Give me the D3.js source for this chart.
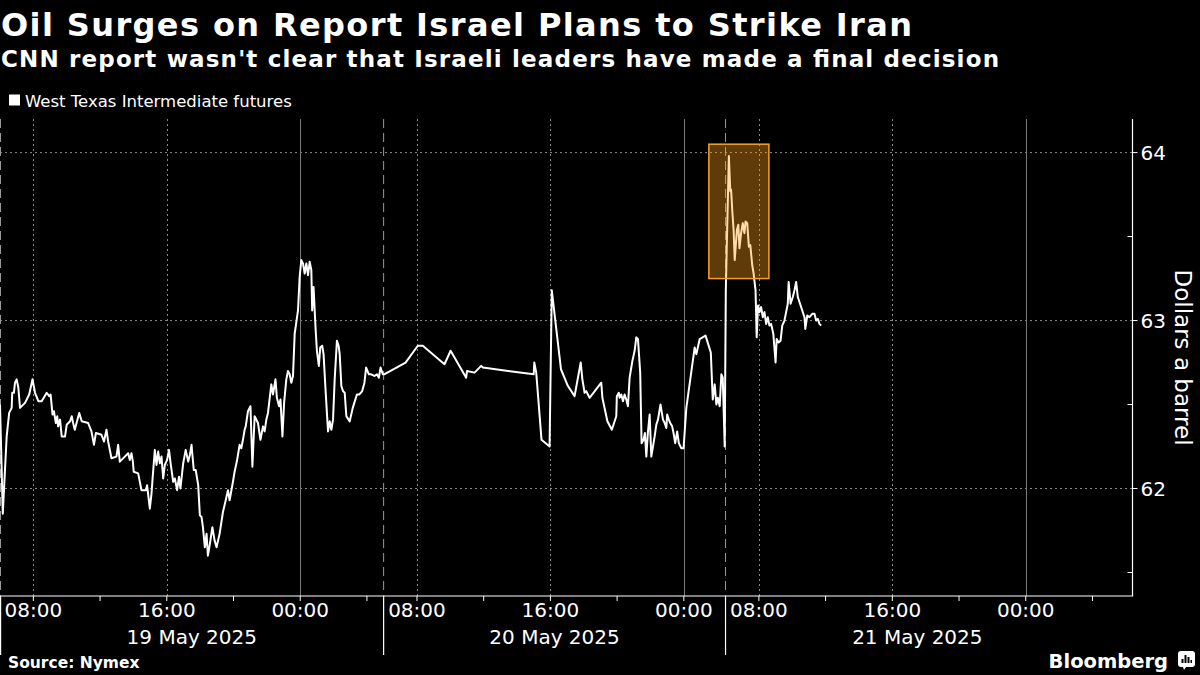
<!DOCTYPE html>
<html>
<head>
<meta charset="utf-8">
<script src="https://cdn.jsdelivr.net/npm/d3@7"></script>
<style>
  html, body { margin: 0; padding: 0; background: #000; }
  svg { display: block; }
  text { font-family: "DejaVu Sans", sans-serif; fill: #fff; }
</style>
</head>
<body>
<svg id="chart" width="1200" height="675"></svg>
<script>
// ---------------- DATA ----------------
const titleText = "Oil Surges on Report Israel Plans to Strike Iran";
const subtitleText = "CNN report wasn't clear that Israeli leaders have made a final decision";
const seriesName = "West Texas Intermediate futures";
const sourceText = "Source: Nymex";
const yAxisTitle = "Dollars a barrel";

// trading sessions (times shown on the chart's clock)
const sessionStarts = ["05-19 06:00", "05-20 06:00", "05-21 06:00"];
const sessionEnds   = ["05-20 05:00", "05-21 02:30", "05-22 05:00"];
const sessionLabels = ["19 May 2025", "20 May 2025", "21 May 2025"];
const axisEnd = "05-22 06:24";

const yDomain = [61.36, 64.2];
const yMajorTicks = [62, 63, 64];
const yMinorTicks = [61.5, 62.5, 63.5];

const highlightTimes = ["05-21 01:30", "05-21 08:36"];
const highlightRange = [63.25, 64.05];

// WTI futures, session of 19 May
const s1Times = ["05-19 06:00","05-19 06:10","05-19 06:24","05-19 06:33","05-19 06:42","05-19 06:44","05-19 06:50","05-19 06:54","05-19 07:00","05-19 07:06","05-19 07:12","05-19 07:30","05-19 07:45","05-19 07:57","05-19 08:06","05-19 08:18","05-19 08:30","05-19 08:48","05-19 08:57","05-19 09:02","05-19 09:09","05-19 09:14","05-19 09:21","05-19 09:26","05-19 09:29","05-19 09:36","05-19 09:42","05-19 09:54","05-19 10:00","05-19 10:12","05-19 10:18","05-19 10:23","05-19 10:29","05-19 10:45","05-19 10:54","05-19 11:17","05-19 11:29","05-19 11:38","05-19 11:45","05-19 12:05","05-19 12:14","05-19 12:23","05-19 12:29","05-19 12:41","05-19 12:59","05-19 13:05","05-19 13:11","05-19 13:29","05-19 13:41","05-19 13:47","05-19 13:53","05-19 13:58","05-19 14:01","05-19 14:17","05-19 14:29","05-19 14:45","05-19 14:49","05-19 14:59","05-19 15:05","05-19 15:09","05-19 15:17","05-19 15:23","05-19 15:29","05-19 15:35","05-19 15:41","05-19 15:47","05-19 15:53","05-19 16:01","05-19 16:08","05-19 16:13","05-19 16:23","05-19 16:29","05-19 16:37","05-19 16:44","05-19 16:49","05-19 16:59","05-19 17:08","05-19 17:17","05-19 17:23","05-19 17:29","05-19 17:37","05-19 17:44","05-19 17:53","05-19 17:59","05-19 18:05","05-19 18:10","05-19 18:17","05-19 18:23","05-19 18:28","05-19 18:35","05-19 18:44","05-19 18:52","05-19 18:59","05-19 19:10","05-19 19:22","05-19 19:32","05-19 19:40","05-19 19:46","05-19 19:58","05-19 20:04","05-19 20:13","05-19 20:22","05-19 20:28","05-19 20:34","05-19 20:40","05-19 20:44","05-19 20:52","05-19 21:01","05-19 21:08","05-19 21:16","05-19 21:28","05-19 21:37","05-19 21:46","05-19 21:52","05-19 21:58","05-19 22:04","05-19 22:16","05-19 22:22","05-19 22:31","05-19 22:36","05-19 22:44","05-19 22:49","05-19 22:56","05-19 23:02","05-19 23:10","05-19 23:16","05-19 23:22","05-19 23:28","05-19 23:34","05-19 23:40","05-19 23:52","05-19 23:58","05-20 00:04","05-20 00:10","05-20 00:16","05-20 00:22","05-20 00:28","05-20 00:34","05-20 00:40","05-20 00:43","05-20 00:48","05-20 00:55","05-20 01:00","05-20 01:07","05-20 01:12","05-20 01:19","05-20 01:24","05-20 01:31","05-20 01:36","05-20 01:40","05-20 01:46","05-20 01:52","05-20 01:58","05-20 02:04","05-20 02:12","05-20 02:18","05-20 02:22","05-20 02:28","05-20 02:34","05-20 02:40","05-20 02:46","05-20 02:58","05-20 03:09","05-20 03:24","05-20 03:33","05-20 03:43","05-20 03:51","05-20 03:57","05-20 04:07","05-20 04:15","05-20 04:27","05-20 04:36","05-20 04:43","05-20 04:49","05-20 04:57"];
const s1Values = [62.50,61.85,62.31,62.45,62.48,62.57,62.57,62.63,62.65,62.60,62.48,62.51,62.56,62.65,62.57,62.52,62.52,62.57,62.55,62.56,62.44,62.46,62.39,62.43,62.37,62.41,62.31,62.31,62.38,62.40,62.43,62.39,62.35,62.45,62.40,62.39,62.34,62.26,62.33,62.32,62.28,62.35,62.28,62.18,62.19,62.26,62.16,62.19,62.21,62.17,62.21,62.16,62.10,62.09,61.99,61.99,62.02,61.88,61.97,62.06,62.23,62.14,62.22,62.15,62.19,62.06,62.14,62.17,62.23,62.16,62.04,62.06,61.99,62.07,62.00,62.15,62.23,62.16,62.20,62.26,62.11,62.11,62.02,61.84,61.83,61.77,61.65,61.73,61.60,61.67,61.77,61.69,61.65,61.73,61.86,61.93,61.99,61.93,62.04,62.10,62.17,62.26,62.24,62.29,62.35,62.37,62.46,62.49,62.13,62.43,62.39,62.29,62.37,62.34,62.41,62.45,62.62,62.56,62.65,62.54,62.49,62.53,62.31,62.51,62.65,62.70,62.68,62.63,62.67,62.92,63.06,63.26,63.36,63.34,63.28,63.34,63.27,63.35,63.30,63.06,63.20,62.96,62.82,62.73,62.84,62.85,62.80,62.59,62.45,62.34,62.40,62.35,62.41,62.65,62.88,62.85,62.80,62.61,62.58,62.57,62.43,62.40,62.48,62.56,62.56,62.58,62.63,62.72,62.68,62.68,62.67,62.68,62.66,62.72,62.68];

// session of 20 May
const s2Times = ["05-20 06:02","05-20 07:19","05-20 08:03","05-20 08:21","05-20 09:39","05-20 10:01","05-20 10:57","05-20 11:00","05-20 11:27","05-20 11:51","05-20 11:57","05-20 15:00","05-20 15:02","05-20 15:09","05-20 15:28","05-20 15:57","05-20 16:05","05-20 16:38","05-20 17:03","05-20 17:27","05-20 17:49","05-20 17:55","05-20 18:03","05-20 18:09","05-20 18:15","05-20 18:21","05-20 19:03","05-20 19:07","05-20 19:25","05-20 19:41","05-20 19:57","05-20 19:59","05-20 20:06","05-20 20:09","05-20 20:15","05-20 20:21","05-20 20:27","05-20 20:33","05-20 20:39","05-20 20:45","05-20 20:55","05-20 21:03","05-20 21:09","05-20 21:15","05-20 21:23","05-20 21:28","05-20 21:35","05-20 21:40","05-20 21:45","05-20 21:51","05-20 21:57","05-20 22:03","05-20 22:15","05-20 22:21","05-20 22:27","05-20 22:36","05-20 22:45","05-20 22:51","05-20 22:57","05-20 23:00","05-20 23:06","05-20 23:11","05-20 23:18","05-20 23:23","05-20 23:29","05-20 23:36","05-20 23:42","05-20 23:51","05-20 23:59","05-21 00:09","05-21 00:39","05-21 00:45","05-21 00:57","05-21 01:18","05-21 01:37","05-21 01:44","05-21 01:51","05-21 01:57","05-21 02:02","05-21 02:09","05-21 02:15","05-21 02:20","05-21 02:27"];
const s2Values = [62.68,62.75,62.85,62.85,62.74,62.82,62.66,62.70,62.69,62.73,62.72,62.68,62.75,62.69,62.29,62.25,63.18,62.71,62.61,62.55,62.75,62.65,62.57,62.58,62.56,62.54,62.63,62.54,62.40,62.35,62.43,62.55,62.57,62.54,62.56,62.52,62.56,62.53,62.49,62.66,62.76,62.82,62.90,62.89,62.69,62.27,62.29,62.33,62.19,62.34,62.44,62.19,62.31,62.38,62.41,62.50,62.41,62.39,62.36,62.44,62.41,62.39,62.37,62.33,62.27,62.34,62.27,62.24,62.24,62.48,62.84,62.80,62.89,62.91,62.81,62.53,62.62,62.50,62.54,62.49,62.68,62.66,62.25];

// session of 21 May
const s3Times = ["05-21 06:01","05-21 06:05","05-21 06:12","05-21 06:17","05-21 06:20","05-21 06:24","05-21 06:29","05-21 06:33","05-21 06:41","05-21 06:46","05-21 06:50","05-21 06:56","05-21 07:02","05-21 07:08","05-21 07:12","05-21 07:18","05-21 07:24","05-21 07:29","05-21 07:32","05-21 07:36","05-21 07:41","05-21 07:48","05-21 07:52","05-21 07:57","05-21 08:02","05-21 08:08","05-21 08:14","05-21 08:20","05-21 08:26","05-21 08:32","05-21 08:38","05-21 08:44","05-21 08:52","05-21 09:00","05-21 09:04","05-21 09:11","05-21 09:18","05-21 09:24","05-21 09:32","05-21 09:38","05-21 09:44","05-21 09:47","05-21 09:54","05-21 10:02","05-21 10:08","05-21 10:14","05-21 10:20","05-21 10:28","05-21 10:36","05-21 10:44","05-21 10:47","05-21 10:54","05-21 11:02","05-21 11:12","05-21 11:20","05-21 11:26","05-21 11:32","05-21 11:38","05-21 11:44"];
const s3Values = [63.18,63.48,63.98,63.77,63.78,63.66,63.54,63.36,63.54,63.57,63.43,63.52,63.58,63.52,63.59,63.58,63.44,63.45,63.40,63.33,63.28,63.18,62.90,63.09,63.05,63.08,63.02,63.05,62.98,63.02,62.97,62.98,62.92,62.75,62.89,62.87,62.88,62.97,63.00,63.05,63.10,63.23,63.10,63.14,63.18,63.23,63.14,63.10,63.06,63.02,62.95,63.03,63.02,63.04,63.04,63.00,63.01,62.98,62.97];

// ---------------- CHART ----------------
const parseT = d3.timeParse("%Y-%m-%d %H:%M");
const P = s => parseT("2025-" + s);

const svg = d3.select("#chart");
const plot = { left: 0, right: 1132.5, top: 119, bottom: 596 };

// polylinear time scale that skips the non-trading gaps
const segStart = sessionStarts.map(P);
const segEnd = sessionEnds.map(P);
segEnd[segEnd.length - 1] = P(axisEnd);
const hours = segStart.map((s, i) => (segEnd[i] - s) / 3.6e6);
const totalH = d3.sum(hours);
const pxPerH = (plot.right - plot.left) / totalH;
const xDomain = [], xRange = [];
let acc = plot.left;
segStart.forEach((s, i) => {
  xDomain.push(s, segEnd[i]);
  xRange.push(acc, acc + hours[i] * pxPerH);
  acc += hours[i] * pxPerH;
});
const x = d3.scaleTime().domain(xDomain).range(xRange);
const y = d3.scaleLinear().domain(yDomain).range([plot.bottom, plot.top]);

// ticks every 4 hours within sessions
const ticks = [];
segStart.forEach((s, i) => {
  d3.timeHour.every(4).range(s, segEnd[i]).forEach(t => ticks.push(t));
});
const majorTicks = ticks.filter(t => t.getHours() % 8 === 0);

const grid = svg.append("g");
// horizontal gridlines
grid.selectAll("line.h").data(yMajorTicks).join("line")
  .attr("x1", plot.left).attr("x2", plot.right)
  .attr("y1", d => y(d)).attr("y2", d => y(d))
  .attr("stroke", "#8a8a8a").attr("stroke-width", 1).attr("stroke-dasharray", "2,3");
// vertical gridlines
grid.selectAll("line.v").data(majorTicks).join("line")
  .attr("x1", d => Math.round(x(d)) + 0.5).attr("x2", d => Math.round(x(d)) + 0.5)
  .attr("y1", plot.top).attr("y2", plot.bottom)
  .attr("stroke", d => d.getHours() === 0 ? "#7a7a7a" : "#8a8a8a")
  .attr("stroke-width", 1)
  .attr("stroke-dasharray", d => d.getHours() === 0 ? null : "2,3");
// session separators
grid.selectAll("line.s").data(segStart).join("line")
  .attr("x1", d => Math.max(0.5, x(d))).attr("x2", d => Math.max(0.5, x(d)))
  .attr("y1", plot.top).attr("y2", plot.bottom)
  .attr("stroke", "#9a9a9a").attr("stroke-width", 1).attr("stroke-dasharray", "9,5");

// price line
const pts = [];
[[s1Times, s1Values], [s2Times, s2Values], [s3Times, s3Values]].forEach(([ts, vs]) => {
  ts.forEach((t, i) => pts.push({ t: P(t), v: vs[i] }));
});
svg.append("path").datum(pts)
  .attr("fill", "none").attr("stroke", "#fff").attr("stroke-width", 2)
  .attr("stroke-linejoin", "round")
  .attr("d", d3.line().x(d => x(d.t)).y(d => y(d.v)));

// highlight box
const hx0 = x(P(highlightTimes[0])), hx1 = x(P(highlightTimes[1]));
svg.append("rect")
  .attr("x", hx0).attr("y", y(highlightRange[1]))
  .attr("width", hx1 - hx0).attr("height", y(highlightRange[0]) - y(highlightRange[1]))
  .attr("fill", "rgb(255,160,25)").attr("fill-opacity", 0.37)
  .attr("stroke", "#f4a326").attr("stroke-width", 1.5);

// right y axis
const ax = svg.append("g");
ax.append("line").attr("x1", plot.right).attr("x2", plot.right)
  .attr("y1", plot.top).attr("y2", plot.bottom).attr("stroke", "#fff").attr("stroke-width", 1.2);
ax.selectAll("line.mj").data(yMajorTicks).join("line")
  .attr("x1", plot.right).attr("x2", plot.right + 5)
  .attr("y1", d => y(d)).attr("y2", d => y(d)).attr("stroke", "#fff");
ax.selectAll("line.mn").data(yMinorTicks).join("line")
  .attr("x1", plot.right - 5).attr("x2", plot.right)
  .attr("y1", d => y(d)).attr("y2", d => y(d)).attr("stroke", "#fff");
ax.selectAll("text.yl").data(yMajorTicks).join("text")
  .attr("x", plot.right + 8).attr("y", d => y(d)).attr("dy", "0.36em")
  .attr("font-size", 20).text(d => d3.format("d")(d));
svg.append("text")
  .attr("transform", `translate(1175,${(plot.top + plot.bottom) / 2}) rotate(90)`)
  .attr("text-anchor", "middle").attr("font-size", 23).text(yAxisTitle);

// bottom x axis
ax.append("line").attr("x1", plot.left).attr("x2", plot.right + 0.6)
  .attr("y1", plot.bottom).attr("y2", plot.bottom).attr("stroke", "#fff").attr("stroke-width", 1.2);
ax.selectAll("line.xt").data(ticks).join("line")
  .attr("x1", d => x(d)).attr("x2", d => x(d))
  .attr("y1", plot.bottom).attr("y2", plot.bottom + 5).attr("stroke", "#fff");
ax.selectAll("text.xl").data(majorTicks).join("text")
  .attr("x", d => x(d)).attr("y", 617).attr("text-anchor", "middle")
  .attr("font-size", 20).text(d => d3.timeFormat("%H:%M")(d));
ax.selectAll("line.sep").data(segStart).join("line")
  .attr("x1", d => Math.max(0.6, x(d))).attr("x2", d => Math.max(0.6, x(d)))
  .attr("y1", plot.bottom).attr("y2", 655).attr("stroke", "#fff").attr("stroke-width", 1.2);
ax.selectAll("text.dl").data(sessionLabels).join("text")
  .attr("x", (d, i) => (x(segStart[i]) + x(P(sessionEnds[i]))) / 2)
  .attr("y", 644).attr("text-anchor", "middle").attr("font-size", 20).text(d => d);

// titles
svg.append("text").attr("x", 1).attr("y", 36).attr("font-size", 32).attr("font-weight", "bold")
  .attr("textLength", 911).attr("lengthAdjust", "spacing").text(titleText);
svg.append("text").attr("x", 1).attr("y", 67).attr("font-size", 23).attr("font-weight", "bold")
  .attr("textLength", 998).attr("lengthAdjust", "spacing").text(subtitleText);

// legend
svg.append("rect").attr("x", 9).attr("y", 94.5).attr("width", 11).attr("height", 11).attr("fill", "#fff");
svg.append("text").attr("x", 25).attr("y", 106.5).attr("font-size", 16.5).text(seriesName);

// footer
svg.append("text").attr("x", 8).attr("y", 668).attr("font-size", 15.5).attr("font-weight", "bold").text(sourceText);
svg.append("text").attr("x", 1168).attr("y", 668).attr("text-anchor", "end")
  .attr("font-size", 19.5).attr("font-weight", "bold").text("Bloomberg");
const logo = svg.append("g").attr("transform", "translate(1178,651)");
logo.append("rect").attr("width", 17).attr("height", 16).attr("rx", 3).attr("fill", "#fff");
logo.append("path").attr("d", "M5,16 L8,16 L6,19 Z").attr("fill", "#fff");
[[4, 8, 2], [7, 4, 2], [10, 6, 2], [13, 9, 1.5]].forEach(([bx, by, bw]) => {
  logo.append("rect").attr("x", bx - 0.5).attr("y", by).attr("width", bw).attr("height", 12 - by).attr("fill", "#000");
});
</script>
</body>
</html>
